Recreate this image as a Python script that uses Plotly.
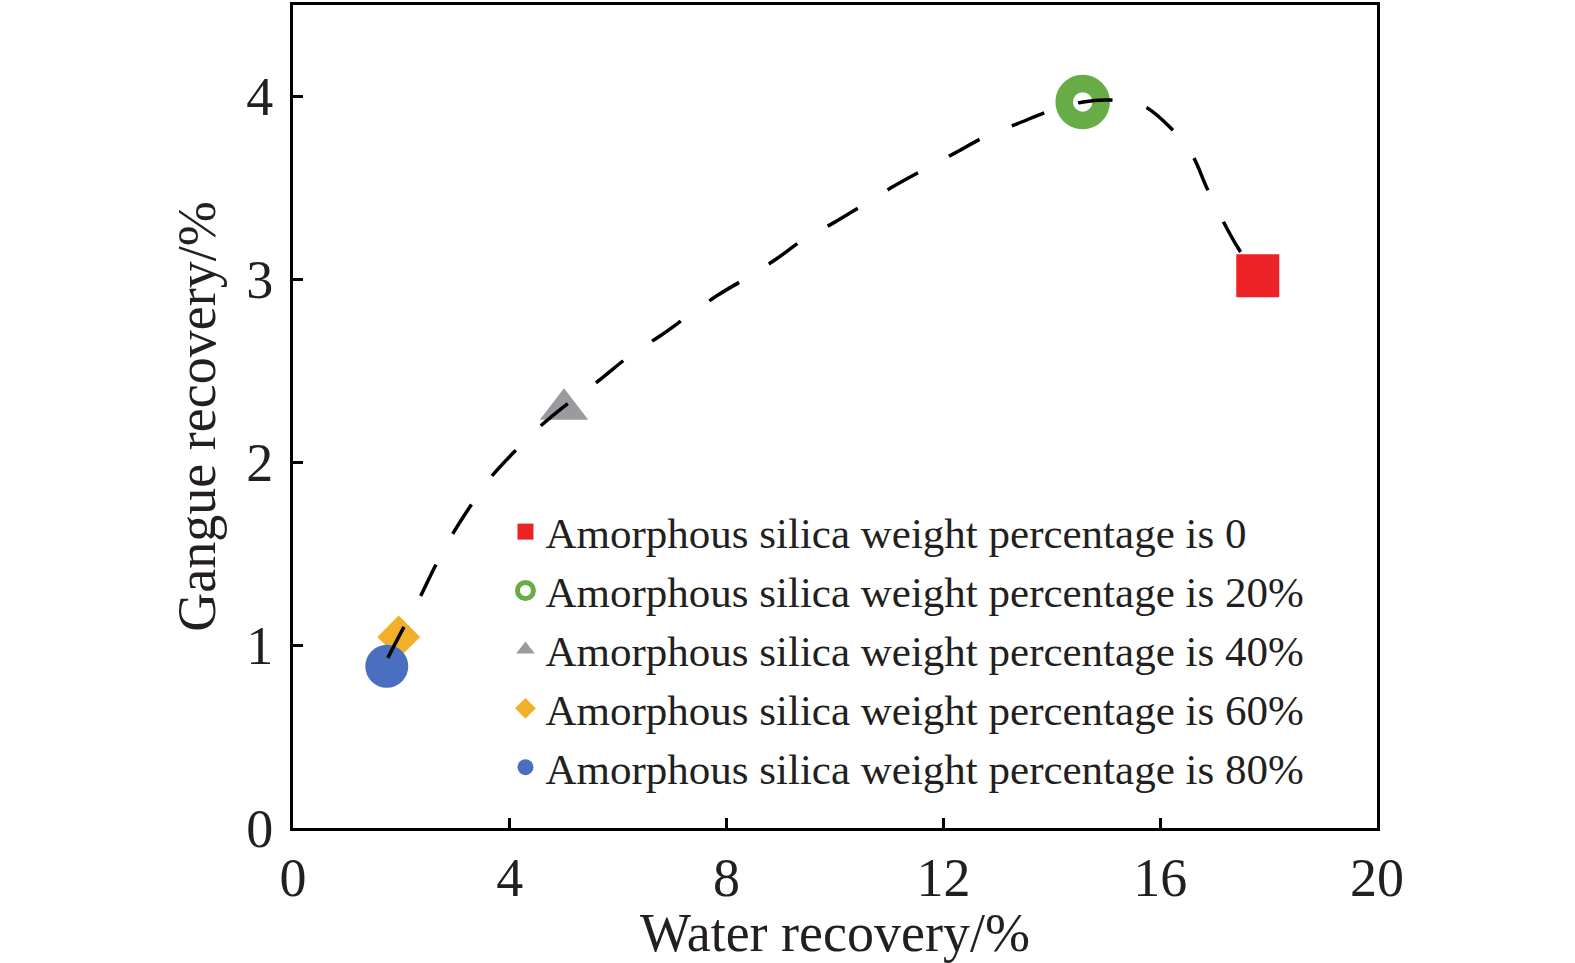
import plotly.graph_objects as go

# Data points
labels = [
    "Amorphous silica weight percentage is 0",
    "Amorphous silica weight percentage is 20%",
    "Amorphous silica weight percentage is 40%",
    "Amorphous silica weight percentage is 60%",
    "Amorphous silica weight percentage is 80%",
]
water_recovery = [17.80, 14.57, 5.00, 1.95, 1.73]
gangue_recovery = [3.02, 3.97, 2.29, 1.045, 0.884]

# Dashed trend curve
curve_x = [1.75, 2.03, 2.34, 2.62, 2.93, 3.25, 3.63, 4.06, 4.50, 4.98, 5.44, 5.74,
           6.25, 6.77, 7.29, 7.82, 8.38, 8.91, 9.43, 9.98, 10.54, 11.09, 11.64,
           12.21, 12.77, 13.36, 13.95, 14.58, 15.07, 15.68, 16.22, 16.59, 16.86,
           17.14, 17.44, 17.82]
curve_y = [0.93, 1.09, 1.26, 1.43, 1.60, 1.75, 1.91, 2.05, 2.18, 2.30, 2.40, 2.47,
           2.59, 2.69, 2.80, 2.91, 3.01, 3.11, 3.22, 3.31, 3.41, 3.51, 3.60,
           3.69, 3.78, 3.85, 3.92, 3.97, 3.98, 3.95, 3.82, 3.68, 3.50,
           3.33, 3.17, 3.01]

x_ticks = [0, 4, 8, 12, 16, 20]
y_ticks = [0, 1, 2, 3, 4]

colors = ["#EC2227", "#68AC48", "#9A9B9F", "#F2B02A", "#4A6EC0"]
symbols = ["square", "circle-open", "triangle-up", "diamond", "circle"]
sizes = [43, 37, 42, 33, 43]
line_widths = [0, 17.5, 0, 0, 0]

FONT = "Liberation Serif, Times New Roman, serif"
TXT = "#231F20"

fig = go.Figure()
for i in range(len(labels)):
    fig.add_trace(go.Scatter(
        x=[water_recovery[i]], y=[gangue_recovery[i]],
        mode="markers", name=labels[i],
        marker=dict(symbol=symbols[i], size=sizes[i], color=colors[i],
                    line=dict(width=line_widths[i], color=colors[i])),
    ))

fig.add_trace(go.Scatter(
    x=curve_x, y=curve_y, mode="lines", showlegend=False,
    line=dict(color="#000000", width=3.5, dash="35px,35px", shape="spline"),
))

axis_common = dict(
    showline=True, linecolor="#000000", linewidth=3, mirror=True,
    ticks="inside", ticklen=10, tickwidth=2.5, tickcolor="#000000",
    showgrid=False, zeroline=False,
    tickfont=dict(family=FONT, size=54, color=TXT),
)

fig.update_layout(
    width=1575, height=963,
    margin=dict(l=293, r=198, t=2, b=135),
    plot_bgcolor="white", paper_bgcolor="white",
    font=dict(family=FONT, color=TXT),
    xaxis=dict(range=[0, 20], tickvals=x_ticks, ticktext=[str(v) for v in x_ticks],
               title=dict(text="Water recovery/%", font=dict(family=FONT, size=54, color=TXT), standoff=0),
               **axis_common),
    yaxis=dict(range=[0, 4.5], tickvals=y_ticks, ticktext=[str(v) for v in y_ticks],
               ticklabelstandoff=6,
               title=dict(text="Gangue recovery/%", font=dict(family=FONT, size=54, color=TXT), standoff=14),
               **axis_common),
    legend=dict(x=0.196, y=0.402, xanchor="left", yanchor="top",
                bgcolor="rgba(0,0,0,0)", borderwidth=0,
                font=dict(family=FONT, size=43, color=TXT),
                tracegroupgap=0),
    showlegend=True,
)

fig.write_html("out.html", config={"displayModeBar": False},
               post_script="document.body.style.margin='0';")
